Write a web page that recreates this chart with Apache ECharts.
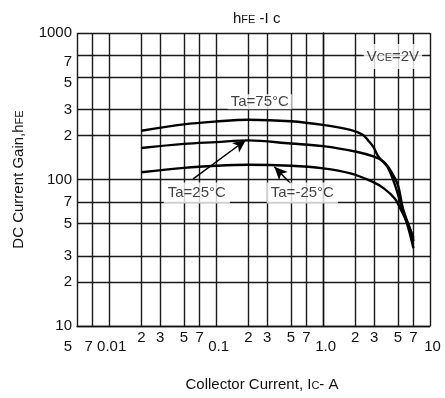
<!DOCTYPE html>
<html>
<head>
<meta charset="utf-8">
<script src="https://cdn.jsdelivr.net/npm/echarts@6/dist/echarts.min.js"></script>
<style>
  html, body { margin: 0; padding: 0; background: #fff; }
  #myChart { width: 445px; height: 398px; }
</style>
</head>
<body>
<div id="myChart"></div>
<script>
// axis grid values (A and hFE) and their printed labels
var xTicks = [0.005, 0.007, 0.01, 0.02, 0.03, 0.05, 0.07, 0.1, 0.2, 0.3, 0.5, 0.7, 1, 2, 3, 5, 7, 10];
var xTickLabels = ['5', '7', '0.01', '2', '3', '5', '7', '0.1', '2', '3', '5', '7', '1.0', '2', '3', '5', '7', '10'];
var yTicks = [10, 20, 30, 50, 70, 100, 200, 300, 500, 700, 1000];
var yTickLabels = ['10', '2', '3', '5', '7', '100', '2', '3', '5', '7', '1000'];

// curves, Ic (A) -> hFE
var ic75 = [0.02, 0.05, 0.1, 0.2, 0.5, 1, 1.8, 2.35, 2.65, 2.95, 3.3, 4, 4.7, 5.5, 6.3, 7];
var hfe75 = [215, 238, 249, 256, 250, 236, 218, 202, 184, 167, 143, 122, 92, 63, 46, 34];
var ic25 = [0.02, 0.05, 0.1, 0.2, 0.5, 1, 2.1, 3, 3.7, 4.25, 5, 5.6, 6.8, 7];
var hfe25 = [164, 175, 180, 185, 176, 169, 154, 143, 132, 116, 92, 63, 42, 38];
var icM25 = [0.02, 0.05, 0.1, 0.2, 0.5, 1, 1.8, 2.85, 3.7, 4.7, 5.3, 6.1, 7];
var hfeM25 = [112, 120, 124, 126, 124, 119, 110, 97, 87, 74, 63, 51, 40];

// notes on the plot and the arrows from the labels to their curves
var noteTexts = ['{n|V}{s|CE}{n|=2V}', 'Ta=75°C', 'Ta=25°C', 'Ta=-25°C'];
var noteIc = [4.5, 0.256, 0.066, 0.64];
var noteHfe = [690, 340, 81, 81];
var arrowFrom = [[0.061, 101], [0.5, 93.6]];
var arrowTo = [[0.19, 186], [0.35, 122]];

var FONT = 'Arial, "Liberation Sans", sans-serif';
var lg = Math.log10;

function pairs(xs, ys) {
  var out = [];
  for (var i = 0; i < xs.length; i++) out.push([lg(xs[i]), lg(ys[i])]);
  return out;
}
function findIdx(arr, v) {
  for (var i = 0; i < arr.length; i++) {
    if (Math.abs(lg(arr[i]) - v) < 1e-6) return i;
  }
  return -1;
}

var xVals = xTicks.map(lg);
var yVals = yTicks.map(lg);

// small-caps style used for subscripts like hFE, VCE, IC
var subStyle = { fontFamily: FONT, fontSize: 11, color: '#111', verticalAlign: 'bottom', padding: [0, 0, 1, 0] };
var mainStyle = { fontFamily: FONT, fontSize: 15, color: '#111', verticalAlign: 'bottom' };

var curveStyle = {
  type: 'line',
  showSymbol: false,
  symbol: 'none',
  smooth: 0.35,
  lineStyle: { color: '#000', width: 2.4 },
  silent: true
};

var notePads = [[5, 3], [0, 3], [3, 4], [3, 4]];

var option = {
  animation: false,
  backgroundColor: '#fff',
  title: {
    text: '{n|h}{s|FE}{n| -I c}',
    left: 228,
    top: 6,
    textStyle: {
      fontFamily: FONT, fontSize: 15, fontWeight: 'normal', color: '#111',
      rich: { n: mainStyle, s: subStyle }
    }
  },
  grid: { left: 77, right: 15, top: 33, bottom: 72, containLabel: false },
  xAxis: {
    type: 'value',
    min: xVals[0],
    max: xVals[xVals.length - 1],
    name: '{n|Collector Current, I}{s|C}{n|- A}',
    nameLocation: 'middle',
    nameGap: 51,
    nameTextStyle: {
      padding: [0, 0, 0, 17],
      rich: { n: mainStyle, s: subStyle }
    },
    axisLine: { show: true, lineStyle: { color: '#111', width: 1.4 } },
    axisTick: { show: false, customValues: xVals },
    splitLine: { show: true, lineStyle: { color: '#1a1a1a', width: 1.4 } },
    axisLabel: {
      customValues: xVals,
      showMinLabel: true,
      showMaxLabel: true,
      margin: 4,
      fontFamily: FONT,
      fontSize: 15,
      color: '#111',
      formatter: function (v) {
        var i = findIdx(xTicks, v);
        if (i < 0) return '';
        var t = xTickLabels[i];
        if (i === 0) return '{e0|' + t + '}';
        if (i === 1) return '{e1|' + t + '}';
        if (t.indexOf('.') >= 0 || t === '10') return '{d|' + t + '}';
        return '{m|' + t + '}';
      },
      rich: {
        m: { fontFamily: FONT, fontSize: 15, color: '#111' },
        d: { fontFamily: FONT, fontSize: 15, color: '#111', padding: [9, 0, 0, 5] },
        e0: { fontFamily: FONT, fontSize: 15, color: '#111', padding: [9, 18, 0, 0] },
        e1: { fontFamily: FONT, fontSize: 15, color: '#111', padding: [9, 8, 0, 0] }
      }
    }
  },
  yAxis: {
    type: 'value',
    min: yVals[0],
    max: yVals[yVals.length - 1],
    name: '{n|DC Current Gain,h}{s|FE}',
    nameLocation: 'middle',
    nameRotate: 90,
    nameGap: 51,
    nameTextStyle: {
      rich: { n: mainStyle, s: subStyle }
    },
    axisLine: { show: true, lineStyle: { color: '#111', width: 1.4 } },
    axisTick: { show: false, customValues: yVals },
    splitLine: { show: true, lineStyle: { color: '#1a1a1a', width: 1.4 } },
    axisLabel: {
      customValues: yVals,
      showMinLabel: true,
      showMaxLabel: true,
      margin: 5,
      fontFamily: FONT,
      fontSize: 15,
      color: '#111',
      formatter: function (v) {
        var i = findIdx(yTicks, v);
        if (i < 0) return '';
        // the 700 and 500 labels sit a little low in the original
        if (yTicks[i] === 700 || yTicks[i] === 500) return '{dn|' + yTickLabels[i] + '}';
        return '{m|' + yTickLabels[i] + '}';
      },
      rich: {
        m: { fontFamily: FONT, fontSize: 15, color: '#111' },
        dn: { fontFamily: FONT, fontSize: 15, color: '#111', padding: [12, 0, 0, 0] }
      }
    }
  },
  series: [
    Object.assign({ name: 'Ta=75', data: pairs(ic75, hfe75) }, curveStyle),
    Object.assign({ name: 'Ta=25', data: pairs(ic25, hfe25) }, curveStyle),
    Object.assign({ name: 'Ta=-25', data: pairs(icM25, hfeM25) }, curveStyle),
    {
      name: 'notes',
      type: 'scatter',
      symbolSize: 1,
      itemStyle: { color: 'rgba(0,0,0,0)' },
      silent: true,
      z: 5,
      data: pairs(noteIc, noteHfe).map(function (d, i) {
        return { value: d, label: { padding: notePads[i] } };
      }),
      label: {
        show: true,
        position: 'inside',
        fontFamily: FONT,
        fontSize: 15,
        color: '#111',
        backgroundColor: '#fff',
        formatter: function (p) { return noteTexts[p.dataIndex]; },
        rich: { n: mainStyle, s: subStyle }
      },
      markLine: {
        silent: true,
        animation: false,
        symbol: ['none', 'arrow'],
        symbolSize: [9, 13],
        label: { show: false },
        lineStyle: { color: '#000', width: 1.5, type: 'solid' },
        data: arrowFrom.map(function (f, i) {
          return [
            { coord: [lg(f[0]), lg(f[1])] },
            { coord: [lg(arrowTo[i][0]), lg(arrowTo[i][1])] }
          ];
        })
      }
    }
  ]
};

var chart = echarts.init(document.getElementById('myChart'));
chart.setOption(option);
window.addEventListener('resize', function () { chart.resize(); });
</script>
</body>
</html>
